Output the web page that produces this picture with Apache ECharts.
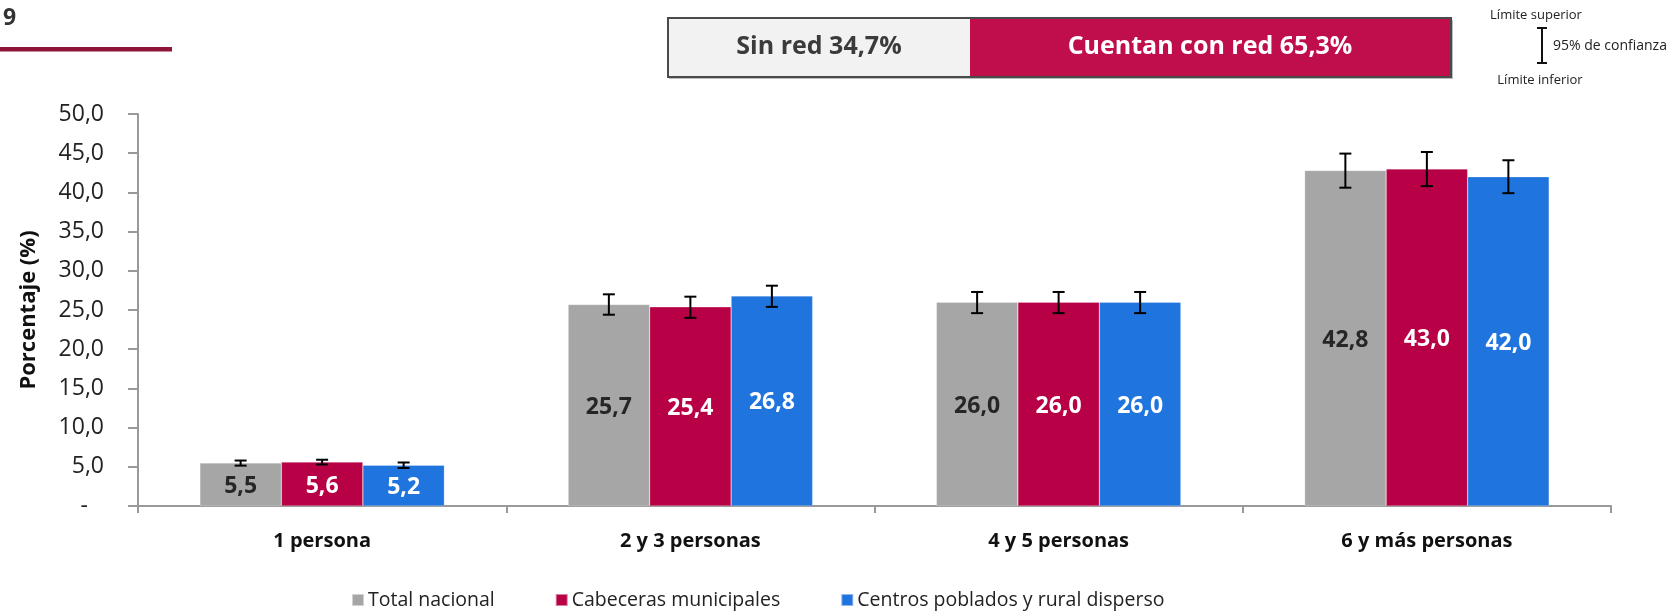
<!DOCTYPE html>
<html>
<head>
<meta charset="utf-8">
<script src="https://cdn.jsdelivr.net/npm/echarts@6/dist/echarts.min.js"></script>
<style>
  html, body { margin: 0; padding: 0; background: #ffffff; }
  #chart { width: 1667px; height: 611px; }
</style>
</head>
<body>
<div id="chart"></div>
<script>
// Household size categories
const categories = ['1 persona', '2 y 3 personas', '4 y 5 personas', '6 y más personas'];

// Percentages per area
const totalNacional = [5.5, 25.7, 26.0, 42.8];
const cabeceras = [5.6, 25.4, 26.0, 43.0];
const centrosPoblados = [5.2, 26.8, 26.0, 42.0];

// 95% confidence limits (lower / upper)
const totalLow = [5.15, 24.4, 24.6, 40.6];
const totalHigh = [5.8, 27.0, 27.3, 44.95];
const cabecerasLow = [5.3, 24.0, 24.6, 40.8];
const cabecerasHigh = [5.9, 26.7, 27.3, 45.15];
const centrosLow = [4.85, 25.4, 24.6, 39.9];
const centrosHigh = [5.55, 28.1, 27.3, 44.1];

const seriesNames = ['Total nacional', 'Cabeceras municipales', 'Centros poblados y rural disperso'];
const colors = ['#A6A6A6', '#B70046', '#1F74DD'];
const labelColors = ['#262626', '#ffffff', '#ffffff'];

// Header summary
const sinRedLabel = 'Sin red 34,7%';
const conRedLabel = 'Cuentan con red 65,3%';

const FONT = '"Open Sans", "Noto Sans", sans-serif';
const CAT_GAP = 0.336;

const fmt = v => Number(v).toFixed(1).replace('.', ',');

function barSeries(name, values, k) {
  return {
    name: name,
    type: 'bar',
    data: values,
    barGap: '0%',
    barCategoryGap: (CAT_GAP * 100) + '%',
    itemStyle: { color: colors[k], borderColor: 'rgba(255,255,255,0.5)', borderWidth: 0.5 },
    label: {
      show: true,
      position: 'inside',
      offset: [0, 2],
      color: labelColors[k],
      fontFamily: FONT,
      fontWeight: 'bold',
      fontSize: 23,
      formatter: p => fmt(p.value)
    },
    z: 2
  };
}

function errorSeries(low, high, k) {
  return {
    name: 'ic-' + k,
    type: 'custom',
    data: low.map((lo, i) => [i, lo, high[i]]),
    encode: { x: 0, y: [1, 2] },
    z: 5,
    silent: true,
    renderItem: function (params, api) {
      const i = api.value(0);
      const catW = api.size([1, 0])[0];
      const bw = catW * (1 - CAT_GAP) / 3;
      const cx = api.coord([i, 0])[0] + (k - 1) * bw;
      const yLo = api.coord([i, api.value(1)])[1];
      const yHi = api.coord([i, api.value(2)])[1];
      const cap = 6;
      const st = { stroke: '#000000', lineWidth: 2 };
      return {
        type: 'group',
        children: [
          { type: 'line', shape: { x1: cx, y1: yLo, x2: cx, y2: yHi }, style: st },
          { type: 'line', shape: { x1: cx - cap, y1: yLo, x2: cx + cap, y2: yLo }, style: st },
          { type: 'line', shape: { x1: cx - cap, y1: yHi, x2: cx + cap, y2: yHi }, style: st }
        ]
      };
    }
  };
}

const chart = echarts.init(document.getElementById('chart'), null, { renderer: 'canvas' });

chart.setOption({
  backgroundColor: '#ffffff',
  animation: false,
  textStyle: { fontFamily: FONT },
  grid: { left: 138, right: 56, top: 114, bottom: 105, containLabel: false },
  legend: {
    data: seriesNames,
    left: 346,
    top: 585,
    itemWidth: 12,
    itemHeight: 12,
    itemGap: 60,
    icon: 'rect',
    textStyle: { fontFamily: FONT, fontSize: 19.5, color: '#222222', padding: [0, 0, 0, -1] }
  },
  xAxis: {
    type: 'category',
    data: categories,
    axisLine: { lineStyle: { color: '#999999', width: 2 } },
    axisTick: { show: true, length: 7, lineStyle: { color: '#999999', width: 2 } },
    axisLabel: { margin: 25, fontFamily: FONT, fontSize: 20, fontWeight: 'bold', color: '#111111' }
  },
  yAxis: {
    type: 'value',
    min: 0,
    max: 50,
    interval: 5,
    name: 'Porcentaje (%)',
    nameLocation: 'middle',
    nameGap: 98,
    nameRotate: 90,
    nameTextStyle: { fontFamily: FONT, fontSize: 22, fontWeight: 'bold', color: '#111111' },
    splitLine: { show: false },
    axisLine: { show: true, lineStyle: { color: '#999999', width: 2 } },
    axisTick: { show: true, length: 10, lineStyle: { color: '#999999', width: 2 } },
    axisLabel: {
      margin: 34,
      fontFamily: FONT,
      fontSize: 23,
      color: '#222222',
      formatter: v => (v === 0 ? '{d|-}' : fmt(v)),
      rich: { d: { fontFamily: FONT, fontSize: 23, color: '#222222', padding: [0, 16, 0, 0] } }
    }
  },
  series: [
    barSeries(seriesNames[0], totalNacional, 0),
    barSeries(seriesNames[1], cabeceras, 1),
    barSeries(seriesNames[2], centrosPoblados, 2),
    errorSeries(totalLow, totalHigh, 0),
    errorSeries(cabecerasLow, cabecerasHigh, 1),
    errorSeries(centrosLow, centrosHigh, 2)
  ],
  graphic: [
    // Chart number and accent rule
    { type: 'text', left: 3, top: 7, style: { text: '9', fontFamily: FONT, fontSize: 23, fontWeight: 'bold', fill: '#333333' } },
    { type: 'rect', shape: { x: 0, y: 47, width: 172, height: 4.5 }, style: { fill: '#8E1538' } },
    // Network coverage summary box
    { type: 'rect', shape: { x: 669, y: 20, width: 784, height: 59 }, style: { fill: '#bdbdbd' } },
    { type: 'rect', shape: { x: 668, y: 18, width: 302, height: 59 }, style: { fill: '#F2F2F2' } },
    { type: 'rect', shape: { x: 970, y: 17, width: 481, height: 60 }, style: { fill: '#C00E4D' } },
    { type: 'rect', shape: { x: 668, y: 18, width: 783, height: 59 }, style: { fill: 'none', stroke: '#4A4A4A', lineWidth: 2 } },
    { type: 'text', x: 819, y: 47, style: { text: sinRedLabel, fontFamily: FONT, fontSize: 25, fontWeight: 'bold', fill: '#3B3B3B', align: 'center', verticalAlign: 'middle' } },
    { type: 'text', x: 1210, y: 47, style: { text: conRedLabel, fontFamily: FONT, fontSize: 25, fontWeight: 'bold', fill: '#ffffff', align: 'center', verticalAlign: 'middle' } },
    // Confidence interval key
    { type: 'text', x: 1536, y: 15, style: { text: 'Límite superior', fontFamily: FONT, fontSize: 13, fill: '#222222', align: 'center', verticalAlign: 'middle' } },
    { type: 'line', shape: { x1: 1542, y1: 28, x2: 1542, y2: 63 }, style: { stroke: '#111111', lineWidth: 2 } },
    { type: 'line', shape: { x1: 1537, y1: 28, x2: 1547, y2: 28 }, style: { stroke: '#111111', lineWidth: 2 } },
    { type: 'line', shape: { x1: 1537, y1: 63, x2: 1547, y2: 63 }, style: { stroke: '#111111', lineWidth: 2 } },
    { type: 'text', x: 1553, y: 46, style: { text: '95% de confianza', fontFamily: FONT, fontSize: 14, fill: '#222222', align: 'left', verticalAlign: 'middle' } },
    { type: 'text', x: 1540, y: 80, style: { text: 'Límite inferior', fontFamily: FONT, fontSize: 13, fill: '#222222', align: 'center', verticalAlign: 'middle' } }
  ]
});
</script>
</body>
</html>
